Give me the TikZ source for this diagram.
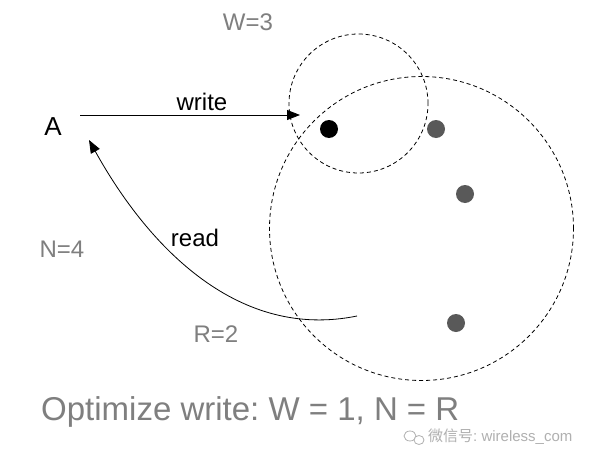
\documentclass[tikz,border=0pt]{standalone}
\usepackage{fontspec}
\setmainfont{Liberation Sans}
\newfontfamily\cjk{Noto Sans CJK SC}
\usetikzlibrary{arrows.meta}
\definecolor{lbl}{HTML}{7F7F7F}
\definecolor{dotgray}{HTML}{595959}
\definecolor{wm}{HTML}{B0B0B0}
\frenchspacing
\begin{document}
\begin{tikzpicture}[x=1pt,y=-1pt,
  ring/.style={draw=black,dash pattern=on 4pt off 3pt,line width=0.8pt},
  dotnode/.style={circle,fill=#1,inner sep=0pt,minimum size=18pt},
  lbltext/.style={text=lbl,font=\fontsize{24}{28}\selectfont,inner sep=0pt},
  blktext/.style={text=black,font=\fontsize{24}{28}\selectfont,inner sep=0pt},
  arr/.style={-{Triangle[length=13pt,width=10pt]},line width=0.8pt}]
\useasboundingbox (0,0) rectangle (614,466);
\fill[white] (0,0) rectangle (614,466);
% circles
\node[ring,circle,minimum size=139pt,inner sep=0pt] (small) at (358.5,103.5) {};
\node[ring,circle,minimum size=304pt,inner sep=0pt] (big) at (421.5,228.5) {};
% dots
\node[dotnode=black] (d1) at (329,129) {};
\node[dotnode=dotgray] (d2) at (436,129) {};
\node[dotnode=dotgray] (d3) at (465,194) {};
\node[dotnode=dotgray] (d4) at (456,323) {};
% labels
\node[text=black,font=\fontsize{26}{30}\selectfont,inner sep=0pt] (A) at (53,127) {A};
\node[blktext] (wr) at (202,102) {write};
\node[blktext] (rd) at (195,238) {read};
\node[lbltext] (W) at (248,22) {W=3};
\node[lbltext] (N) at (62,249) {N=4};
\node[lbltext] (R) at (216,334) {R=2};
\node[text=lbl,font=\fontsize{33}{38}\selectfont,inner sep=0pt,anchor=west] (opt) at (41,412) {Optimize write: W = 1, N = R};
% arrows
\coordinate (ws) at (80,115);
\coordinate (we) at (300,115);
\draw[arr] (ws) -- (we);
\coordinate (rs) at (357,316);
\coordinate (re) at (89,140);
\draw[arr] (rs) .. controls (240,340) and (150,250) .. (re);
% watermark
\draw[wm,line width=0.8pt] (410,436) ellipse (6pt and 5pt);
\draw[wm,line width=0.8pt,fill=white] (419,440) ellipse (5pt and 4.5pt);
\node[text=wm,font=\fontsize{15}{18}\selectfont,inner sep=0pt,anchor=west] (wmt) at (428,437) {{\cjk 微信号}: wireless\_com};
\end{tikzpicture}
\end{document}
